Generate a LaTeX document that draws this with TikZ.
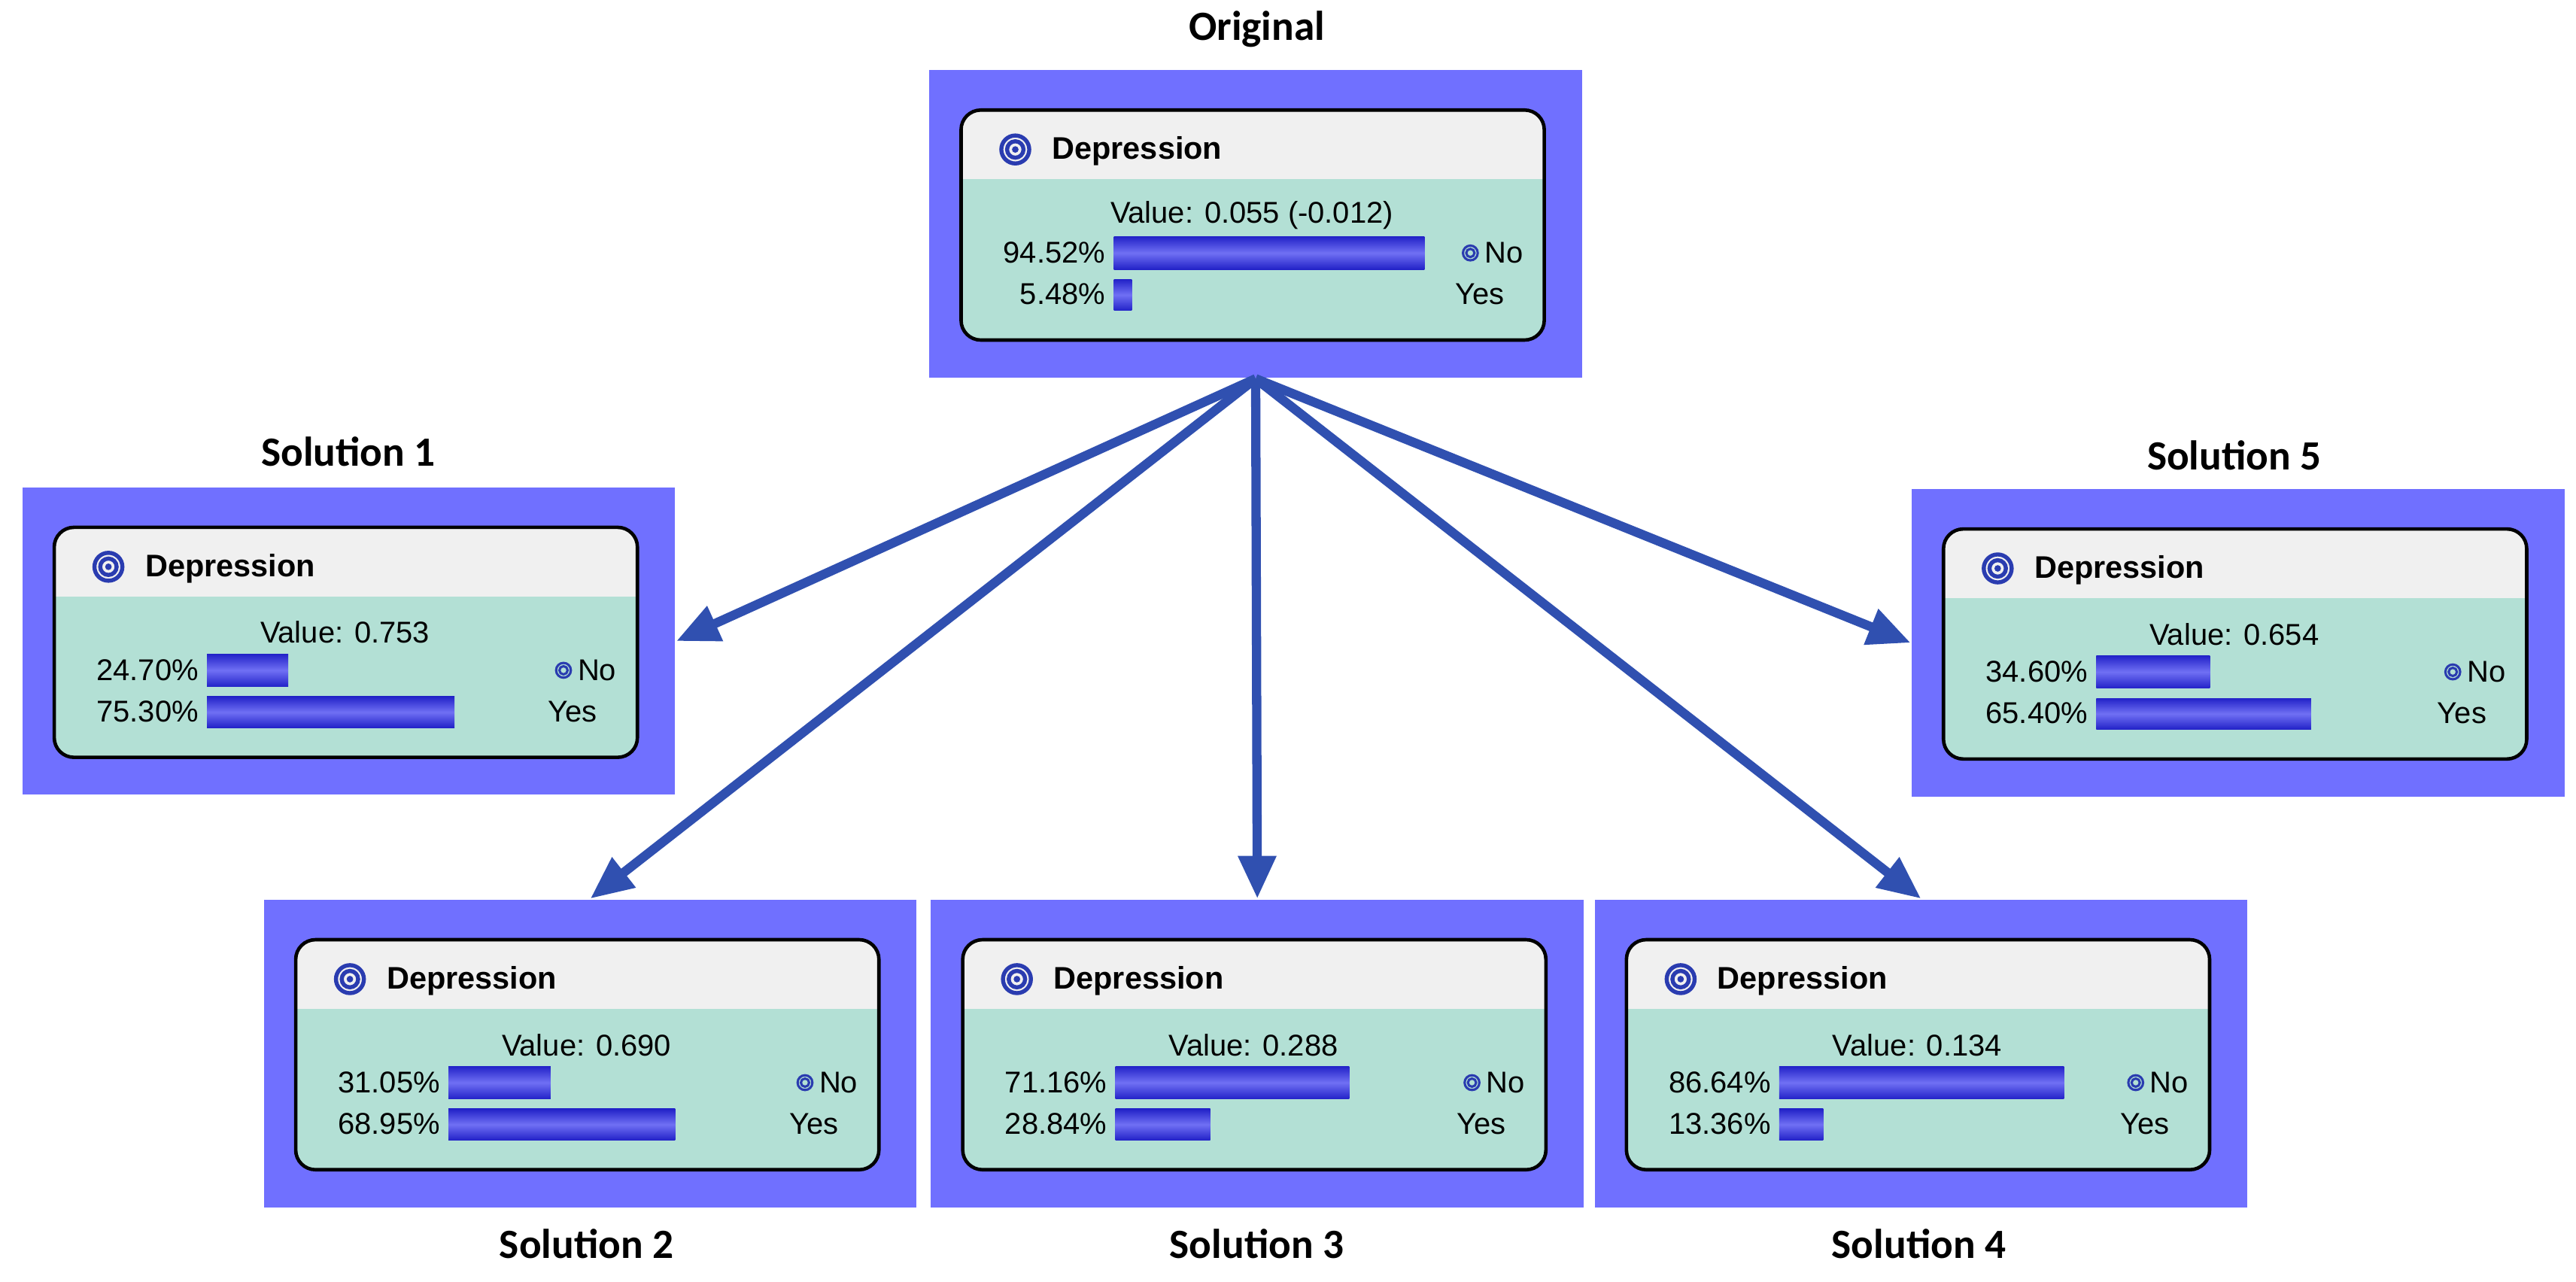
\documentclass[tikz,border=0pt]{standalone}
\usepackage{fontspec}
\setmainfont{Liberation Sans}
\newfontfamily\titlefont{Carlito}
\usetikzlibrary{arrows.meta}
\definecolor{frameblue}{HTML}{7070FF}
\definecolor{bodyteal}{HTML}{B3E0D5}
\definecolor{headgray}{HTML}{F0F0F0}
\definecolor{arrowblue}{HTML}{3050B0}
\definecolor{bardark}{HTML}{2222C8}
\definecolor{barlight}{HTML}{7070F4}
\definecolor{iconblue}{HTML}{2A3CB0}
\tikzset{
  frame/.style={fill=frameblue, draw=none, minimum width=3.97cm, minimum height=1.87cm, anchor=north west, inner sep=0pt},
  bar/.style={top color=bardark, bottom color=bardark, middle color=barlight, draw=none},
  body/.style={font=\fontsize{5.2}{6}\selectfont},
  heading/.style={font=\titlefont\bfseries\fontsize{7.2}{8}\selectfont},
  link/.style={draw=arrowblue, line width=1.6pt, -{Triangle[length=0.26cm,width=0.22cm]}}
}
% one network node: name, x, y (top left), value, no, yes
\newcommand\netbox[6]{
  \node[frame] (#1) at (#2,#3) {};
  \begin{scope}
    \clip[rounded corners=0.12cm] (#2+20,#3+25) rectangle ++(355,140);
    \fill[bodyteal] (#2+20,#3+25) rectangle ++(355,140);
    \fill[headgray] (#2+20,#3+25) rectangle ++(355,42);
  \end{scope}
  \draw[line width=0.6pt, rounded corners=0.12cm] (#2+20,#3+25) rectangle ++(355,140);
  \draw[iconblue, line width=0.7pt] (#2+53,#3+49) circle[radius=0.085cm] circle[radius=0.05cm];
  \fill[iconblue] (#2+53,#3+49) circle[radius=0.02cm];
  \node[body, anchor=west, font=\bfseries\fontsize{5.4}{6}\selectfont] (#1-name) at (#2+63,#3+50) {Depression};
  \node[body] (#1-value) at (#2+197,#3+89) {Value: #4};
  \node[body, anchor=east, inner sep=1pt] (#1-no) at (#2+112,#3+112) {#5\%};
  \node[body, anchor=east, inner sep=1pt] (#1-yes) at (#2+112,#3+137) {#6\%};
  \shade[bar] (#2+113,#3+102) rectangle ++({2*#5},20);
  \shade[bar] (#2+113,#3+128) rectangle ++({2*#6},19);
  \draw[iconblue, line width=0.4pt] (#2+330,#3+112) circle[radius=0.045cm] circle[radius=0.025cm];
  \node[body, anchor=west, inner sep=0pt] at (#2+338,#3+112) {No};
  \node[body, anchor=west, inner sep=0pt] at (#2+320,#3+137) {Yes};
}
\begin{document}
\begin{tikzpicture}[x=0.01cm, y=-0.01cm]
  \useasboundingbox (0,0) rectangle (1568,780);

  \netbox{orig}{565}{42}{0.055 (-0.012)}{94.52}{5.48}
  \netbox{sol1}{13}{296}{0.753}{24.70}{75.30}
  \netbox{sol5}{1163}{297}{0.654}{34.60}{65.40}
  \netbox{sol2}{160}{547}{0.690}{31.05}{68.95}
  \netbox{sol3}{566}{547}{0.288}{71.16}{28.84}
  \netbox{sol4}{970}{547}{0.134}{86.64}{13.36}

  \node[heading] at (765,18) {Original};
  \node[heading] at (212,275) {Solution 1};
  \node[heading] at (1360,277) {Solution 5};
  \node[heading] at (357,757) {Solution 2};
  \node[heading] at (765,757) {Solution 3};
  \node[heading] at (1168,757) {Solution 4};

  \draw[link] (orig.south) -- (sol1.east);
  \draw[link] (orig.south) -- (sol5.west);
  \draw[link] (orig.south) -- (sol2.north);
  \draw[link] (orig.south) -- (sol3.north);
  \draw[link] (orig.south) -- (sol4.north);
\end{tikzpicture}
\end{document}
